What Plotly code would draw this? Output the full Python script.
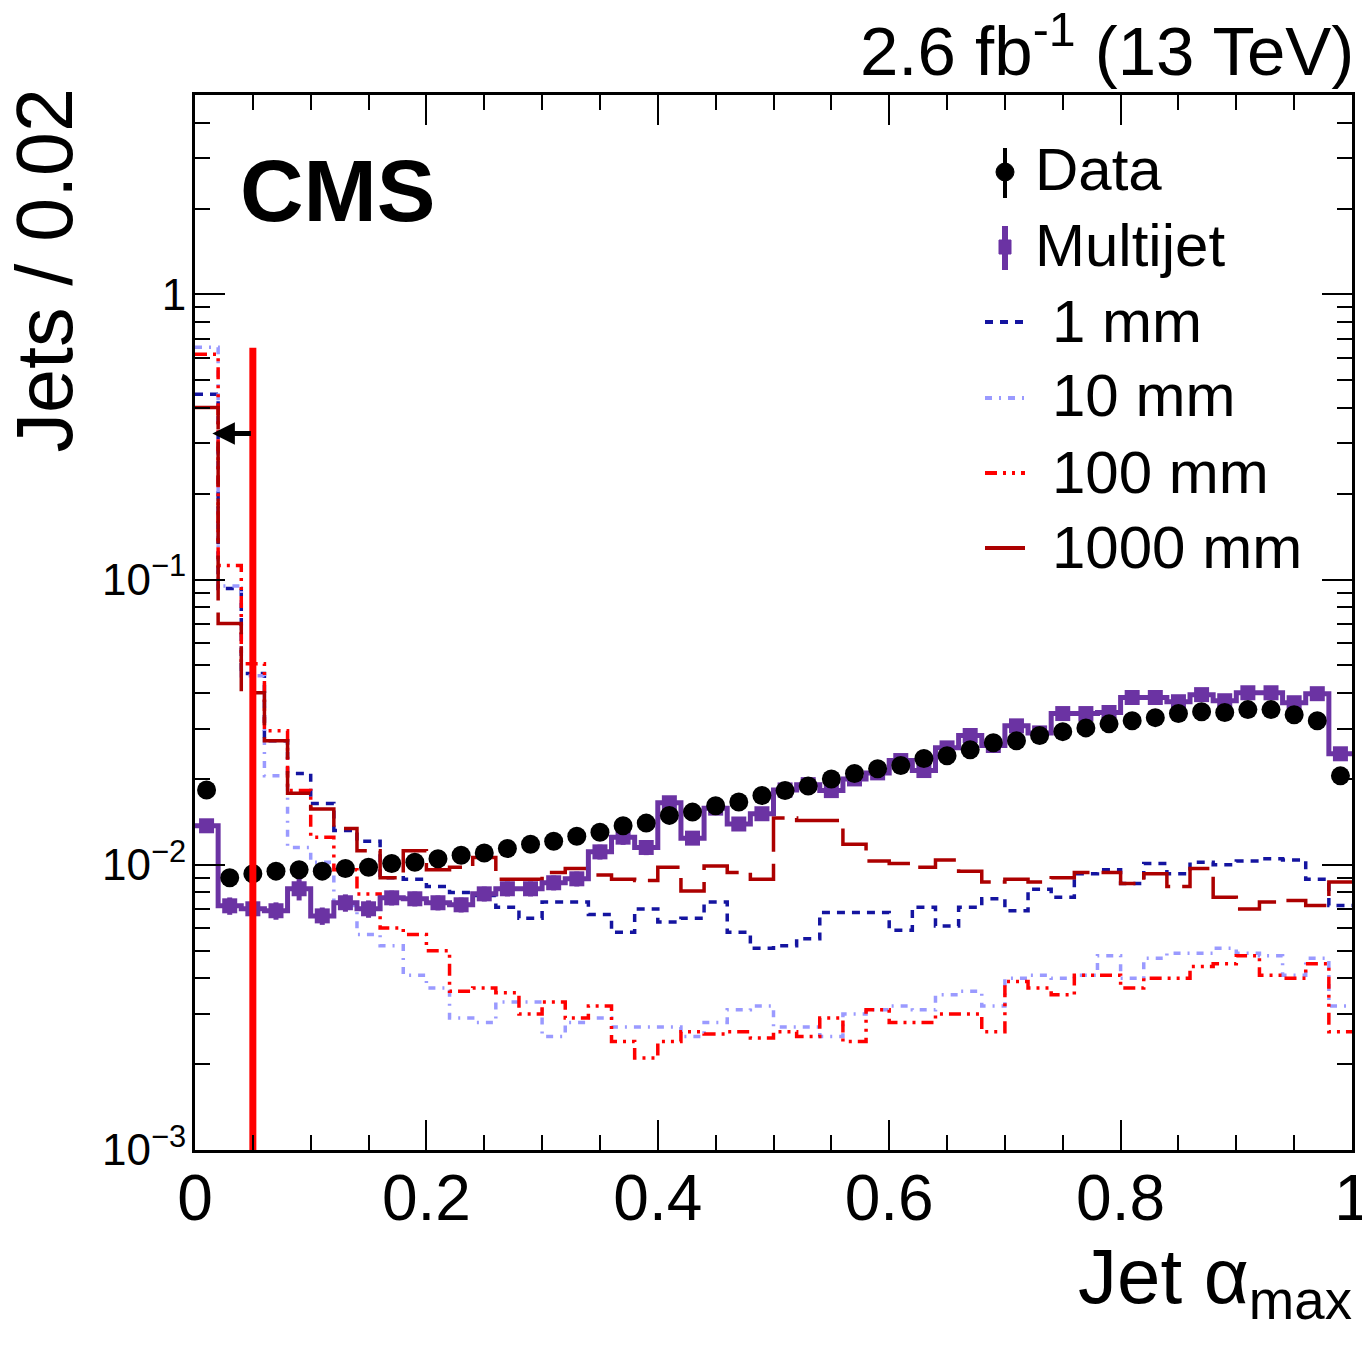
import numpy as np
import plotly.graph_objects as go

# ---------------- data ----------------
bin_width = 0.02
bin_edges = np.round(np.arange(51) * bin_width, 2)
bin_centers = np.round(bin_edges[:-1] + bin_width / 2, 3)

data_vals = [0.0183, 0.0090, 0.0093, 0.0095, 0.0096, 0.0095, 0.0097, 0.0098, 0.0101, 0.0102,
             0.0105, 0.0108, 0.0110, 0.0114, 0.0118, 0.0121, 0.0126, 0.0130, 0.0137, 0.0140,
             0.0149, 0.0153, 0.0161, 0.0166, 0.0175, 0.0182, 0.0189, 0.0200, 0.0209, 0.0217,
             0.0223, 0.0236, 0.0241, 0.0253, 0.0268, 0.0272, 0.0284, 0.0293, 0.0302, 0.0312,
             0.0320, 0.0328, 0.0339, 0.0344, 0.0342, 0.0350, 0.0350, 0.0336, 0.0320, 0.0205]

multijet_vals = [0.0137, 0.00718, 0.00701, 0.00690, 0.00824, 0.00662, 0.00736, 0.00701, 0.00766, 0.00760,
                 0.00736, 0.00724, 0.00791, 0.00824, 0.00824, 0.00865, 0.00893, 0.0111, 0.0125, 0.0115,
                 0.0165, 0.0124, 0.0158, 0.0139, 0.0151, 0.0183, 0.0191, 0.0182, 0.0200, 0.0210,
                 0.0232, 0.0214, 0.0257, 0.0284, 0.0262, 0.0307, 0.0290, 0.0339, 0.0339, 0.0342,
                 0.0386, 0.0386, 0.0373, 0.0395, 0.0376, 0.0401, 0.0401, 0.0370, 0.0398, 0.0245]

multijet_relerr = [0.05, 0.07, 0.07, 0.07, 0.09, 0.07, 0.07, 0.07, 0.06, 0.06,
                   0.06, 0.06, 0.06, 0.06, 0.06, 0.06, 0.06, 0.06, 0.06, 0.06,
                   0.05, 0.05, 0.05, 0.05, 0.05, 0.04, 0.04, 0.04, 0.04, 0.03,
                   0.03, 0.03, 0.03, 0.03, 0.03, 0.03, 0.03, 0.03, 0.03, 0.03,
                   0.03, 0.03, 0.03, 0.03, 0.03, 0.03, 0.03, 0.03, 0.03, 0.03]

sig_1mm = [0.446, 0.093, 0.0468, 0.0272, 0.0209, 0.0164, 0.0132, 0.0121, 0.0090, 0.0089,
           0.0084, 0.0080, 0.0078, 0.0071, 0.0065, 0.0074, 0.0074, 0.0067, 0.0058, 0.0070,
           0.0063, 0.0065, 0.0074, 0.0058, 0.0051, 0.0052, 0.0055, 0.0068, 0.0068, 0.0068,
           0.0059, 0.0071, 0.0061, 0.0071, 0.0076, 0.0069, 0.0082, 0.0077, 0.0093, 0.0096,
           0.0086, 0.0101, 0.0093, 0.0102, 0.0100, 0.0103, 0.0105, 0.0104, 0.0089, 0.0072]

sig_10mm = [0.652, 0.095, 0.046, 0.0205, 0.0115, 0.0102, 0.0072, 0.0057, 0.0052, 0.0041,
            0.0037, 0.0029, 0.0028, 0.0033, 0.0033, 0.0025, 0.0028, 0.0029, 0.0027, 0.0027,
            0.0027, 0.0025, 0.0028, 0.0031, 0.0032, 0.0027, 0.0027, 0.0025, 0.0030, 0.0031,
            0.0032, 0.0031, 0.0035, 0.0036, 0.0032, 0.0040, 0.0041, 0.0040, 0.0041, 0.0048,
            0.0040, 0.0047, 0.0049, 0.0049, 0.0051, 0.0049, 0.0048, 0.0041, 0.0047, 0.0032]

sig_100mm = [0.616, 0.112, 0.0507, 0.0295, 0.0182, 0.0125, 0.0096, 0.0079, 0.0060, 0.0057,
             0.0050, 0.0036, 0.0037, 0.00356, 0.0030, 0.0033, 0.0029, 0.0032, 0.0024, 0.0021,
             0.0024, 0.0026, 0.00255, 0.0026, 0.00247, 0.0026, 0.0025, 0.0029, 0.0024, 0.0031,
             0.0028, 0.0028, 0.0030, 0.0030, 0.0026, 0.0039, 0.0037, 0.0035, 0.0041, 0.0041,
             0.0037, 0.0040, 0.0040, 0.0044, 0.0045, 0.0048, 0.0041, 0.0040, 0.0045, 0.0026]

sig_1000mm = [0.401, 0.0701, 0.0401, 0.0272, 0.0178, 0.0157, 0.0134, 0.0112, 0.0090, 0.0112,
              0.0096, 0.0098, 0.0106, 0.0089, 0.0089, 0.0094, 0.0097, 0.0092, 0.0089, 0.0088,
              0.0098, 0.0081, 0.0099, 0.0094, 0.0089, 0.0146, 0.0143, 0.0143, 0.0118, 0.0103,
              0.0101, 0.0098, 0.0104, 0.0095, 0.0087, 0.0089, 0.0087, 0.0090, 0.0094, 0.0094,
              0.0086, 0.0093, 0.0084, 0.0097, 0.0077, 0.0070, 0.0074, 0.0075, 0.0072, 0.0087]

cut_value = 0.05
cut_line_top = 0.65
arrow_level = 0.325
arrow_head_x = 0.015

x_tick_vals = [0, 0.2, 0.4, 0.6, 0.8, 1.0]
x_tick_text = ["0", "0.2", "0.4", "0.6", "0.8", "1"]
y_tick_vals = [0.001, 0.01, 0.1, 1]
y_tick_text = ["10<sup>\u22123</sup>", "10<sup>\u22122</sup>", "10<sup>\u22121</sup>", "1"]

legend_labels = ["Data", "Multijet", "1 mm", "10 mm", "100 mm", "1000 mm"]

# ---------------- style ----------------
FONT = "Liberation Sans, Arial, Helvetica, sans-serif"
C_PURPLE = "#6b33a3"
C_1MM = "#1414a0"
C_10MM = "#9a9aff"
C_100MM = "#ff0000"
C_1000MM = "#ac0000"

D_1MM = "8px,7px"
D_10MM = "7px,7px,2px,7px"
D_100MM = "12px,6px,3px,6px,3px,6px"
D_1000MM = "45px,12px"

W, H = 1362, 1346
L, R, T, B = 195, 1352, 95, 1150  # plot area in pixels


def pxx(x):
    return (x - L) / (R - L)


def pxy(y):
    return (B - y) / (B - T)


def step(vals):
    return list(vals) + [vals[-1]]


fig = go.Figure()

for vals, col, dash, name in [(sig_1mm, C_1MM, D_1MM, "1 mm"),
                              (sig_10mm, C_10MM, D_10MM, "10 mm"),
                              (sig_100mm, C_100MM, D_100MM, "100 mm"),
                              (sig_1000mm, C_1000MM, D_1000MM, "1000 mm")]:
    fig.add_trace(go.Scatter(x=bin_edges, y=step(vals), mode="lines", line_shape="hv",
                             line=dict(color=col, width=3.5, dash=dash),
                             name=name, showlegend=False, hoverinfo="skip"))

# multijet step + markers with errors
fig.add_trace(go.Scatter(x=bin_edges, y=step(multijet_vals), mode="lines", line_shape="hv",
                         line=dict(color=C_PURPLE, width=5), showlegend=False, hoverinfo="skip"))
fig.add_trace(go.Scatter(x=bin_centers, y=multijet_vals, mode="markers",
                         marker=dict(symbol="square", size=15, color=C_PURPLE),
                         error_y=dict(type="data",
                                      array=[v * e for v, e in zip(multijet_vals, multijet_relerr)],
                                      color=C_PURPLE, thickness=5, width=0),
                         name="Multijet", showlegend=False))

# data
fig.add_trace(go.Scatter(x=bin_centers, y=data_vals, mode="markers",
                         marker=dict(symbol="circle", size=19, color="black"),
                         name="Data", showlegend=False))

# cut line
fig.add_trace(go.Scatter(x=[cut_value, cut_value], y=[0.001, cut_line_top], mode="lines",
                         line=dict(color="#ff0000", width=7), showlegend=False, hoverinfo="skip"))

annotations = []
shapes = []

# arrow
annotations.append(dict(x=arrow_head_x, y=np.log10(arrow_level), xref="x", yref="y",
                        ax=40, ay=0, axref="pixel", ayref="pixel", text="", showarrow=True,
                        arrowhead=2, arrowsize=0.9, arrowwidth=5, arrowcolor="black"))

# texts
annotations.append(dict(x=pxx(238), y=pxy(190), xref="paper", yref="paper", xanchor="left",
                        yanchor="middle", text="<b>CMS</b>", showarrow=False,
                        font=dict(family=FONT, size=88, color="black")))
annotations.append(dict(x=pxx(1356), y=pxy(46), xref="paper", yref="paper", xanchor="right",
                        yanchor="middle", text="2.6 fb<sup>-1</sup> (13 TeV)", showarrow=False,
                        font=dict(family=FONT, size=69, color="black")))
annotations.append(dict(x=pxx(1354), y=pxy(1230), xref="paper", yref="paper", xanchor="right",
                        yanchor="top", text="Jet \u03b1<sub>max</sub>", showarrow=False,
                        font=dict(family=FONT, size=78, color="black")))
annotations.append(dict(x=pxx(44), y=pxy(86), xref="paper", yref="paper", xanchor="center",
                        yanchor="top", text="Jets / 0.02", textangle=-90, showarrow=False,
                        font=dict(family=FONT, size=79, color="black")))

# legend
row_y = [170, 245, 321, 396, 472, 547]
text_x = [1033, 1033, 1050, 1050, 1050, 1050]
for lab, ry, tx in zip(legend_labels, row_y, text_x):
    annotations.append(dict(x=pxx(tx), y=pxy(ry), xref="paper", yref="paper", xanchor="left",
                            yanchor="middle", text=lab, showarrow=False,
                            font=dict(family=FONT, size=60, color="black")))

# Data symbol
shapes.append(dict(type="line", xref="paper", yref="paper", x0=pxx(1005), x1=pxx(1005),
                   y0=pxy(148), y1=pxy(198), line=dict(color="black", width=4)))
shapes.append(dict(type="circle", xref="paper", yref="paper", x0=pxx(996), x1=pxx(1014),
                   y0=pxy(181), y1=pxy(163), fillcolor="black", line=dict(color="black", width=1)))
# Multijet symbol
shapes.append(dict(type="line", xref="paper", yref="paper", x0=pxx(1005), x1=pxx(1005),
                   y0=pxy(226), y1=pxy(270), line=dict(color=C_PURPLE, width=6)))
shapes.append(dict(type="rect", xref="paper", yref="paper", x0=pxx(999), x1=pxx(1011),
                   y0=pxy(254), y1=pxy(240), fillcolor=C_PURPLE, line=dict(color=C_PURPLE, width=1)))
for ry, col, dash in [(322, C_1MM, D_1MM), (398, C_10MM, D_10MM),
                      (473, C_100MM, D_100MM), (548, C_1000MM, "solid")]:
    shapes.append(dict(type="line", xref="paper", yref="paper", x0=pxx(985), x1=pxx(1025),
                       y0=pxy(ry), y1=pxy(ry), line=dict(color=col, width=4, dash=dash)))

x_minor = [round(v, 2) for v in np.arange(0.05, 1.0, 0.05) if abs(round(v / 0.2) * 0.2 - v) > 1e-6]
y_minor = [m * 10.0 ** e for e in range(-3, 1) for m in range(2, 10) if m * 10.0 ** e <= 5.0]

fig.update_layout(
    width=W, height=H,
    margin=dict(l=L, r=W - R, t=T, b=H - B, pad=0, autoexpand=False),
    paper_bgcolor="white", plot_bgcolor="white",
    font=dict(family=FONT, color="black"),
    showlegend=False,
    annotations=annotations,
    shapes=shapes,
    xaxis=dict(range=[0, 1], showline=True, linecolor="black", linewidth=3, mirror="ticks",
               automargin=False,
               ticks="inside", ticklen=30, tickwidth=2, tickcolor="black",
               tickvals=x_tick_vals, ticktext=x_tick_text, ticklabeloverflow="allow",
               tickfont=dict(family=FONT, size=64, color="black"), ticklabelstandoff=-10,
               minor=dict(ticks="inside", ticklen=15, tickwidth=2, tickcolor="black",
                          tickvals=x_minor, showgrid=False),
               showgrid=False, zeroline=False),
    yaxis=dict(type="log", range=[-3, np.log10(5.0)], showline=True, linecolor="black",
               linewidth=3, mirror="ticks", ticks="inside", ticklen=30, tickwidth=2,
               automargin=False,
               tickcolor="black", tickvals=y_tick_vals, ticktext=y_tick_text,
               ticklabeloverflow="allow",
               tickfont=dict(family=FONT, size=44, color="black"), ticklabelstandoff=-3,
               minor=dict(ticks="inside", ticklen=15, tickwidth=2, tickcolor="black",
                          tickvals=y_minor, showgrid=False),
               showgrid=False, zeroline=False),
)

fig.write_html("out.html")
